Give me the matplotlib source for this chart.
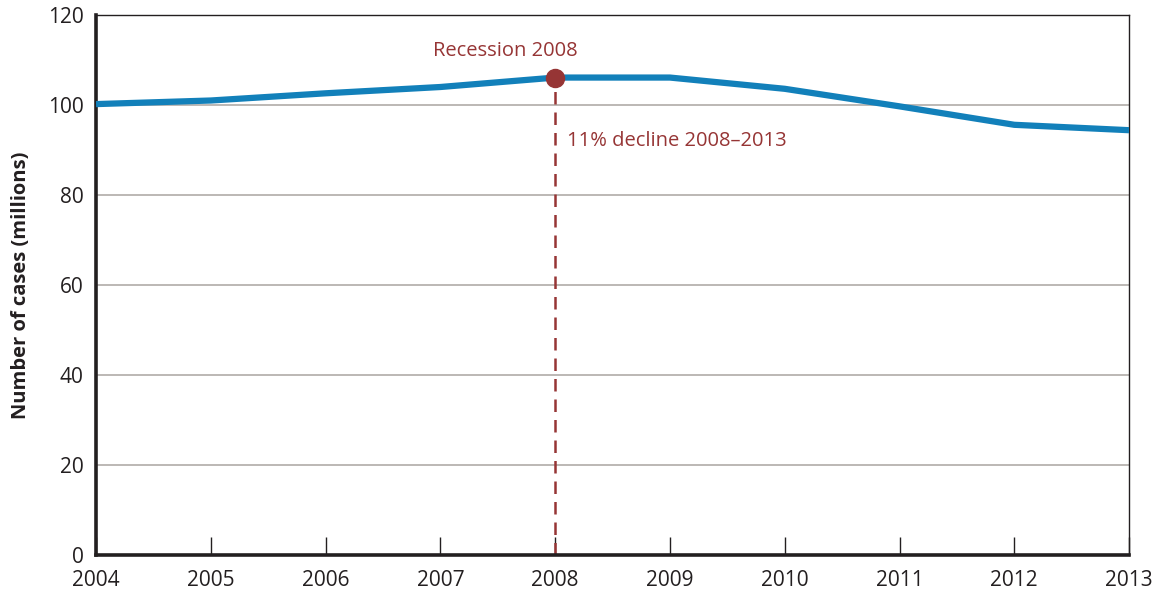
import matplotlib.pyplot as plt

years = [2004, 2005, 2006, 2007, 2008, 2009, 2010, 2011, 2012, 2013]
cases = [100.2, 101.0, 102.6, 104.0, 106.1, 106.1, 103.6, 99.7, 95.6, 94.4]
yticks = [0, 20, 40, 60, 80, 100, 120]

peak_year = 2008
peak_value = 106.1

line_color = "#1280ba"
accent = "#963535"

plt.rcParams["font.family"] = ["Open Sans", "DejaVu Sans"]

fig = plt.figure(figsize=(11.54, 5.91), dpi=100)
ax = fig.add_axes([0.0832, 0.061, 0.8952, 0.9136])

ax.set_xlim(2004, 2013)
ax.set_ylim(0, 120)

for y in yticks[1:-1]:
    ax.axhline(y, color="#b0aca8", lw=1.2, zorder=1)

ax.plot(years, cases, color=line_color, lw=4.5, solid_capstyle="butt", zorder=3)
ax.plot([peak_year, peak_year], [0, peak_value], color=accent, lw=1.8,
        dashes=(5, 3.2), zorder=2)
ax.plot(peak_year, peak_value, "o", color=accent, ms=13, zorder=4)

ax.text(peak_year - 0.43, 112.0, "Recession 2008", color=accent,
        fontsize=14.5, ha="center", va="center")
ax.text(peak_year + 0.1, 92.0, "11% decline 2008\u20132013", color=accent,
        fontsize=14.5, ha="left", va="center")

ax.set_xticks(years)
ax.set_xticklabels([str(y) for y in years])
ax.set_yticks(yticks)
ax.tick_params(axis="x", direction="in", length=13, width=1, labelsize=15,
               pad=11, color="#231f20")
ax.tick_params(axis="y", length=0, labelsize=15, pad=9)
for lbl in ax.get_xticklabels() + ax.get_yticklabels():
    lbl.set_color("#231f20")

ax.spines["left"].set_linewidth(2.6)
ax.spines["bottom"].set_linewidth(2.6)
ax.spines["top"].set_linewidth(1.0)
ax.spines["right"].set_linewidth(1.0)
for s in ax.spines.values():
    s.set_color("#231f20")

ax.set_ylabel("Number of cases (millions)", fontsize=14.5, fontweight="bold",
              color="#231f20", labelpad=12)

fig.savefig("out.png", dpi=100)
